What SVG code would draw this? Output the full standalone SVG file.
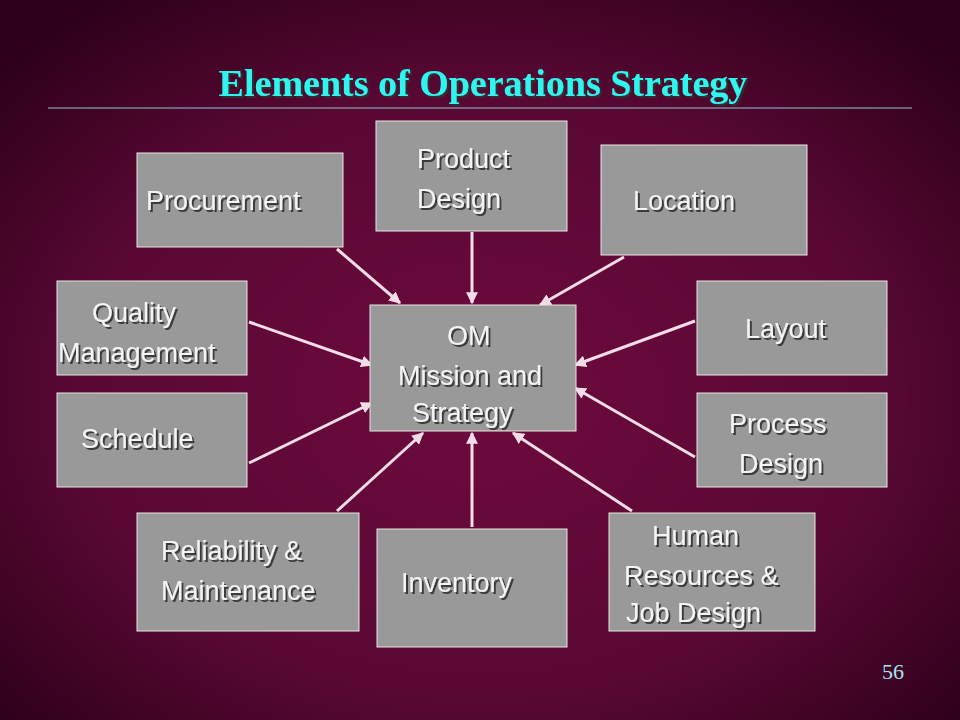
<svg xmlns="http://www.w3.org/2000/svg" width="960" height="720" viewBox="0 0 960 720">
<defs>
<radialGradient id="bg" cx="50%" cy="55%" r="70%">
<stop offset="0" stop-color="#6e0a3e"/><stop offset="0.6" stop-color="#580833"/><stop offset="1" stop-color="#2a0016"/>
</radialGradient>
<marker id="ah" viewBox="0 0 10 10" refX="9" refY="5" markerWidth="4" markerHeight="4" orient="auto"><path d="M0,0 L10,5 L0,10 z" fill="#f2dde6"/></marker>
<filter id="sh" x="-10%" y="-10%" width="120%" height="130%"><feDropShadow dx="2" dy="2" stdDeviation="0.6" flood-color="#333" flood-opacity="0.9"/></filter>
</defs>
<style>
.box{fill:#999;stroke:#e6e6e6;stroke-width:1}
.t{font-family:"Liberation Sans",Arial,sans-serif;font-size:27px;fill:#f4f4f4;filter:url(#sh)}
.c{stroke:#f2dde6;stroke-width:3;fill:none;marker-end:url(#ah)}
</style>
<rect width="960" height="720" fill="url(#bg)"/>
<text x="483" y="96" text-anchor="middle" font-family="'Liberation Serif',serif" font-weight="bold" font-size="38" fill="#2ff5ee" filter="url(#sh)">Elements of Operations Strategy</text>
<line x1="48" y1="108" x2="912" y2="108" stroke="#8fc6d8" stroke-width="1"/>
<g id="connectors">
<line class="c" x1="337" y1="249" x2="400" y2="303"/>
<line class="c" x1="472" y1="232" x2="472" y2="303"/>
<line class="c" x1="624" y1="257" x2="540" y2="305"/>
<line class="c" x1="249" y1="322" x2="372" y2="365"/>
<line class="c" x1="695" y1="321" x2="575" y2="365"/>
<line class="c" x1="249" y1="463" x2="372" y2="403"/>
<line class="c" x1="695" y1="457" x2="575" y2="388"/>
<line class="c" x1="337" y1="511" x2="423" y2="433"/>
<line class="c" x1="472" y1="527" x2="472" y2="433"/>
<line class="c" x1="632" y1="511" x2="513" y2="433"/>
</g>
<g id="procurement"><rect class="box" x="137" y="153" width="206" height="94"/><text class="t" x="146" y="210">Procurement</text></g>
<g id="product-design"><rect class="box" x="376" y="121" width="191" height="110"/><text class="t" x="417" y="168">Product</text><text class="t" x="417" y="208">Design</text></g>
<g id="location"><rect class="box" x="601" y="145" width="206" height="110"/><text class="t" x="633" y="210">Location</text></g>
<g id="quality"><rect class="box" x="57" y="281" width="190" height="94"/><text class="t" x="92" y="322">Quality</text><text class="t" x="58" y="362">Management</text></g>
<g id="om"><rect class="box" x="370" y="305" width="206" height="126"/><text class="t" x="447" y="345">OM</text><text class="t" x="398" y="385">Mission and</text><text class="t" x="412" y="422">Strategy</text></g>
<g id="layout"><rect class="box" x="697" y="281" width="190" height="94"/><text class="t" x="745" y="338">Layout</text></g>
<g id="schedule"><rect class="box" x="57" y="393" width="190" height="94"/><text class="t" x="81" y="448">Schedule</text></g>
<g id="process-design"><rect class="box" x="697" y="393" width="190" height="94"/><text class="t" x="729" y="433">Process</text><text class="t" x="739" y="473">Design</text></g>
<g id="reliability"><rect class="box" x="137" y="513" width="222" height="118"/><text class="t" x="161" y="560">Reliability &amp;</text><text class="t" x="161" y="600">Maintenance</text></g>
<g id="inventory"><rect class="box" x="377" y="529" width="190" height="118"/><text class="t" x="401" y="592">Inventory</text></g>
<g id="human"><rect class="box" x="609" y="513" width="206" height="118"/><text class="t" x="652" y="545">Human</text><text class="t" x="624" y="585">Resources &amp;</text><text class="t" x="626" y="622">Job Design</text></g>
<text x="882" y="679" font-family="'Liberation Serif',serif" font-size="22" fill="#a8e4f0">56</text>
</svg>
